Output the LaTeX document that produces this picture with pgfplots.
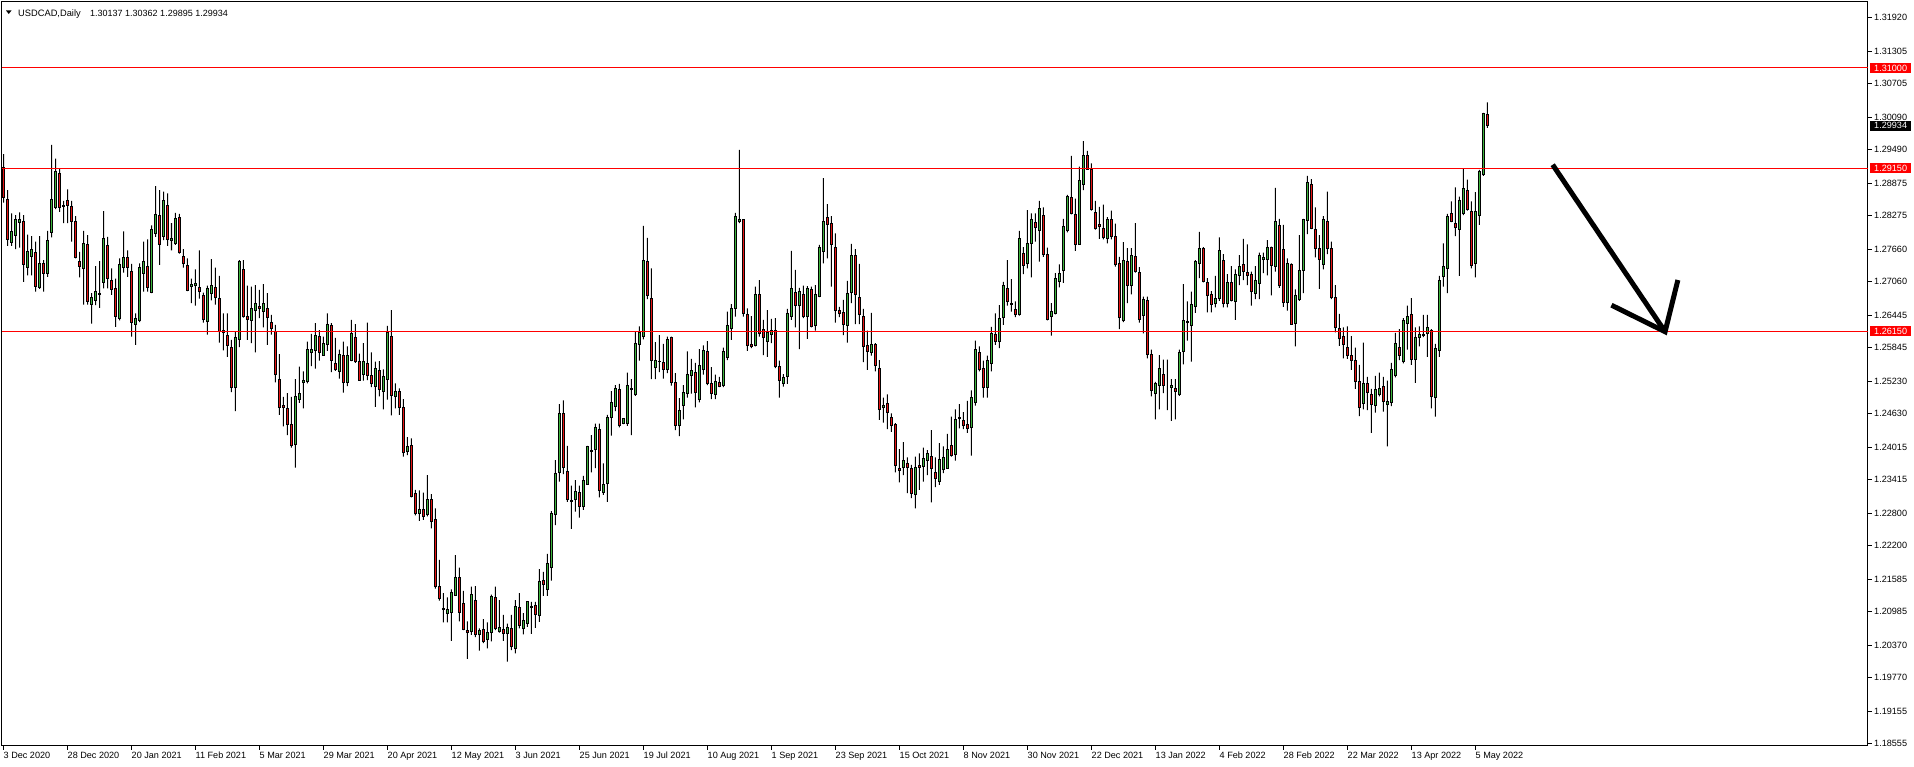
\documentclass[border=0pt]{standalone}
\usepackage{fontspec}
\setmainfont{Liberation Sans}
\usepackage{pgfplots}
\usepackage{pgfplotstable}
\pgfplotsset{compat=1.18}

\definecolor{bull}{RGB}{60,180,60}
\definecolor{bear}{RGB}{230,20,20}

% USDCAD daily candles: index, open, high, low, close
\pgfplotstableread{
i o h l c
0 1.2917 1.2941 1.2852 1.2861
1 1.2858 1.2875 1.2772 1.2784
2 1.2779 1.2832 1.2772 1.2799
3 1.2791 1.2829 1.2766 1.2820
4 1.2816 1.2834 1.2769 1.2820
5 1.2818 1.2829 1.2706 1.2737
6 1.2733 1.2793 1.2718 1.2762
7 1.2752 1.2790 1.2718 1.2766
8 1.2760 1.2780 1.2688 1.2697
9 1.2695 1.2790 1.2693 1.2739
10 1.2739 1.2746 1.2688 1.2721
11 1.2721 1.2800 1.2715 1.2783
12 1.2797 1.2958 1.2788 1.2858
13 1.2842 1.2933 1.2840 1.2910
14 1.2906 1.2915 1.2835 1.2842
15 1.2847 1.2855 1.2814 1.2845
16 1.2855 1.2876 1.2814 1.2847
17 1.2845 1.2855 1.2780 1.2817
18 1.2818 1.2827 1.2749 1.2750
19 1.2744 1.2761 1.2714 1.2734
20 1.2731 1.2800 1.2664 1.2777
21 1.2775 1.2792 1.2664 1.2669
22 1.2664 1.2685 1.2629 1.2677
23 1.2672 1.2735 1.2663 1.2688
24 1.2683 1.2744 1.2658 1.2685
25 1.2705 1.2836 1.2694 1.2785
26 1.2772 1.2789 1.2694 1.2712
27 1.2709 1.2731 1.2682 1.2692
28 1.2694 1.2712 1.2623 1.2643
29 1.2639 1.2749 1.2635 1.2737
30 1.2732 1.2799 1.2723 1.2751
31 1.2751 1.2764 1.2715 1.2732
32 1.2725 1.2739 1.2605 1.2632
33 1.2628 1.2648 1.2590 1.2639
34 1.2635 1.2740 1.2632 1.2733
35 1.2721 1.2780 1.2688 1.2744
36 1.2735 1.2784 1.2688 1.2695
37 1.2687 1.2810 1.2685 1.2802
38 1.2795 1.2882 1.2789 1.2830
39 1.2828 1.2875 1.2737 1.2775
40 1.2789 1.2872 1.2783 1.2856
41 1.2847 1.2869 1.2772 1.2784
42 1.2782 1.2814 1.2764 1.2786
43 1.2777 1.2833 1.2774 1.2823
44 1.2825 1.2831 1.2758 1.2760
45 1.2753 1.2766 1.2732 1.2739
46 1.2736 1.2749 1.2689 1.2690
47 1.2697 1.2712 1.2667 1.2702
48 1.2699 1.2729 1.2662 1.2703
49 1.2696 1.2764 1.2675 1.2689
50 1.2680 1.2686 1.2631 1.2637
51 1.2633 1.2699 1.2609 1.2693
52 1.2684 1.2748 1.2672 1.2700
53 1.2696 1.2732 1.2664 1.2677
54 1.2675 1.2717 1.2594 1.2614
55 1.2616 1.2648 1.2580 1.2613
56 1.2607 1.2648 1.2568 1.2589
57 1.2585 1.2599 1.2503 1.2511
58 1.2511 1.2614 1.2468 1.2604
59 1.2600 1.2746 1.2586 1.2744
60 1.2729 1.2746 1.2640 1.2643
61 1.2642 1.2699 1.2599 1.2637
62 1.2635 1.2697 1.2593 1.2656
63 1.2653 1.2700 1.2576 1.2667
64 1.2660 1.2691 1.2639 1.2656
65 1.2651 1.2702 1.2622 1.2667
66 1.2657 1.2685 1.2590 1.2641
67 1.2632 1.2645 1.2609 1.2620
68 1.2614 1.2627 1.2521 1.2536
69 1.2527 1.2573 1.2461 1.2475
70 1.2478 1.2494 1.2440 1.2475
71 1.2473 1.2501 1.2424 1.2444
72 1.2444 1.2494 1.2401 1.2404
73 1.2407 1.2527 1.2364 1.2494
74 1.2490 1.2550 1.2483 1.2500
75 1.2521 1.2541 1.2473 1.2525
76 1.2522 1.2596 1.2519 1.2582
77 1.2575 1.2610 1.2551 1.2582
78 1.2579 1.2630 1.2546 1.2608
79 1.2606 1.2617 1.2561 1.2575
80 1.2571 1.2605 1.2570 1.2592
81 1.2591 1.2648 1.2579 1.2628
82 1.2625 1.2630 1.2540 1.2561
83 1.2555 1.2603 1.2542 1.2544
84 1.2541 1.2581 1.2528 1.2573
85 1.2571 1.2596 1.2502 1.2521
86 1.2521 1.2587 1.2514 1.2570
87 1.2562 1.2636 1.2560 1.2610
88 1.2603 1.2628 1.2557 1.2559
89 1.2560 1.2574 1.2524 1.2525
90 1.2535 1.2593 1.2524 1.2559
91 1.2555 1.2631 1.2525 1.2533
92 1.2533 1.2576 1.2512 1.2519
93 1.2513 1.2559 1.2476 1.2547
94 1.2542 1.2560 1.2495 1.2507
95 1.2504 1.2545 1.2471 1.2531
96 1.2526 1.2625 1.2489 1.2612
97 1.2606 1.2654 1.2460 1.2497
98 1.2495 1.2519 1.2473 1.2505
99 1.2505 1.2510 1.2461 1.2475
100 1.2475 1.2490 1.2384 1.2392
101 1.2393 1.2420 1.2387 1.2402
102 1.2404 1.2418 1.2309 1.2311
103 1.2316 1.2323 1.2276 1.2280
104 1.2280 1.2322 1.2266 1.2287
105 1.2286 1.2318 1.2268 1.2274
106 1.2277 1.2350 1.2274 1.2306
107 1.2306 1.2315 1.2252 1.2265
108 1.2268 1.2289 1.2141 1.2145
109 1.2146 1.2194 1.2119 1.2123
110 1.2105 1.2133 1.2079 1.2103
111 1.2096 1.2125 1.2079 1.2102
112 1.2098 1.2140 1.2045 1.2134
113 1.2129 1.2203 1.2128 1.2161
114 1.2161 1.2180 1.2081 1.2098
115 1.2113 1.2137 1.2065 1.2066
116 1.2065 1.2081 1.2012 1.2060
117 1.2062 1.2145 1.2056 1.2130
118 1.2120 1.2146 1.2052 1.2057
119 1.2057 1.2068 1.2027 1.2065
120 1.2066 1.2085 1.2041 1.2044
121 1.2048 1.2079 1.2031 1.2061
122 1.2061 1.2130 1.2044 1.2126
123 1.2125 1.2145 1.2065 1.2067
124 1.2062 1.2120 1.2060 1.2070
125 1.2066 1.2093 1.2045 1.2058
126 1.2058 1.2077 1.2007 1.2069
127 1.2068 1.2093 1.2028 1.2034
128 1.2031 1.2120 1.2022 1.2109
129 1.2107 1.2133 1.2068 1.2074
130 1.2068 1.2096 1.2057 1.2083
131 1.2077 1.2118 1.2071 1.2117
132 1.2107 1.2117 1.2058 1.2109
133 1.2110 1.2117 1.2069 1.2093
134 1.2091 1.2177 1.2080 1.2155
135 1.2157 1.2172 1.2128 1.2148
136 1.2139 1.2205 1.2128 1.2188
137 1.2180 1.2284 1.2156 1.2279
138 1.2278 1.2378 1.2258 1.2353
139 1.2355 1.2481 1.2338 1.2464
140 1.2464 1.2488 1.2352 1.2365
141 1.2357 1.2404 1.2301 1.2305
142 1.2304 1.2331 1.2251 1.2301
143 1.2306 1.2341 1.2283 1.2320
144 1.2318 1.2331 1.2272 1.2292
145 1.2292 1.2349 1.2286 1.2341
146 1.2333 1.2404 1.2332 1.2402
147 1.2396 1.2424 1.2355 1.2393
148 1.2398 1.2445 1.2363 1.2438
149 1.2435 1.2445 1.2309 1.2322
150 1.2318 1.2372 1.2314 1.2333
151 1.2335 1.2461 1.2301 1.2457
152 1.2457 1.2505 1.2423 1.2484
153 1.2476 1.2516 1.2468 1.2510
154 1.2508 1.2518 1.2438 1.2441
155 1.2445 1.2455 1.2444 1.2454
156 1.2446 1.2539 1.2441 1.2516
157 1.2508 1.2527 1.2424 1.2510
158 1.2498 1.2614 1.2496 1.2593
159 1.2590 1.2624 1.2561 1.2613
160 1.2605 1.2809 1.2600 1.2746
161 1.2744 1.2787 1.2674 1.2681
162 1.2676 1.2731 1.2527 1.2561
163 1.2549 1.2595 1.2527 1.2561
164 1.2559 1.2608 1.2540 1.2560
165 1.2558 1.2592 1.2528 1.2545
166 1.2545 1.2605 1.2538 1.2600
167 1.2603 1.2605 1.2515 1.2520
168 1.2521 1.2538 1.2433 1.2441
169 1.2441 1.2492 1.2422 1.2470
170 1.2479 1.2516 1.2453 1.2503
171 1.2501 1.2578 1.2493 1.2535
172 1.2534 1.2564 1.2500 1.2543
173 1.2540 1.2557 1.2475 1.2503
174 1.2490 1.2582 1.2484 1.2552
175 1.2545 1.2589 1.2535 1.2580
176 1.2578 1.2597 1.2516 1.2519
177 1.2519 1.2549 1.2490 1.2500
178 1.2499 1.2535 1.2490 1.2523
179 1.2521 1.2531 1.2512 1.2514
180 1.2515 1.2585 1.2512 1.2577
181 1.2567 1.2651 1.2562 1.2626
182 1.2621 1.2665 1.2599 1.2657
183 1.2657 1.2833 1.2642 1.2827
184 1.2818 1.2949 1.2814 1.2821
185 1.2820 1.2821 1.2642 1.2648
186 1.2645 1.2657 1.2579 1.2588
187 1.2591 1.2643 1.2584 1.2587
188 1.2589 1.2697 1.2587 1.2683
189 1.2683 1.2709 1.2605 1.2611
190 1.2619 1.2636 1.2571 1.2604
191 1.2596 1.2654 1.2568 1.2613
192 1.2609 1.2638 1.2593 1.2617
193 1.2617 1.2639 1.2547 1.2551
194 1.2551 1.2561 1.2493 1.2524
195 1.2519 1.2536 1.2513 1.2530
196 1.2532 1.2656 1.2518 1.2647
197 1.2642 1.2763 1.2636 1.2694
198 1.2687 1.2728 1.2622 1.2662
199 1.2662 1.2695 1.2582 1.2689
200 1.2682 1.2699 1.2639 1.2642
201 1.2642 1.2698 1.2601 1.2694
202 1.2692 1.2697 1.2622 1.2624
203 1.2625 1.2700 1.2616 1.2683
204 1.2679 1.2774 1.2678 1.2770
205 1.2762 1.2897 1.2740 1.2818
206 1.2824 1.2849 1.2749 1.2811
207 1.2813 1.2827 1.2697 1.2775
208 1.2770 1.2795 1.2631 1.2654
209 1.2654 1.2660 1.2641 1.2648
210 1.2650 1.2673 1.2608 1.2628
211 1.2625 1.2708 1.2594 1.2685
212 1.2686 1.2776 1.2667 1.2755
213 1.2755 1.2766 1.2628 1.2683
214 1.2678 1.2739 1.2628 1.2646
215 1.2643 1.2656 1.2558 1.2587
216 1.2588 1.2616 1.2544 1.2578
217 1.2576 1.2649 1.2570 1.2591
218 1.2591 1.2593 1.2541 1.2552
219 1.2547 1.2562 1.2452 1.2471
220 1.2474 1.2493 1.2447 1.2479
221 1.2482 1.2499 1.2435 1.2465
222 1.2457 1.2464 1.2430 1.2442
223 1.2444 1.2446 1.2355 1.2368
224 1.2363 1.2398 1.2337 1.2358
225 1.2365 1.2411 1.2350 1.2377
226 1.2372 1.2383 1.2317 1.2364
227 1.2363 1.2369 1.2308 1.2316
228 1.2315 1.2384 1.2289 1.2365
229 1.2367 1.2390 1.2323 1.2364
230 1.2366 1.2401 1.2338 1.2381
231 1.2377 1.2396 1.2350 1.2390
232 1.2385 1.2433 1.2300 1.2362
233 1.2355 1.2383 1.2328 1.2344
234 1.2338 1.2409 1.2332 1.2379
235 1.2361 1.2403 1.2354 1.2383
236 1.2363 1.2426 1.2362 1.2398
237 1.2405 1.2458 1.2384 1.2387
238 1.2389 1.2471 1.2377 1.2453
239 1.2454 1.2481 1.2436 1.2457
240 1.2450 1.2466 1.2435 1.2441
241 1.2443 1.2487 1.2428 1.2436
242 1.2438 1.2506 1.2386 1.2493
243 1.2484 1.2598 1.2478 1.2581
244 1.2576 1.2587 1.2541 1.2544
245 1.2546 1.2561 1.2493 1.2511
246 1.2512 1.2570 1.2493 1.2562
247 1.2556 1.2623 1.2541 1.2611
248 1.2609 1.2648 1.2590 1.2596
249 1.2596 1.2663 1.2584 1.2639
250 1.2641 1.2706 1.2627 1.2700
251 1.2694 1.2746 1.2662 1.2670
252 1.2665 1.2711 1.2651 1.2667
253 1.2655 1.2670 1.2641 1.2646
254 1.2646 1.2800 1.2644 1.2786
255 1.2759 1.2770 1.2720 1.2736
256 1.2740 1.2838 1.2731 1.2777
257 1.2777 1.2832 1.2714 1.2821
258 1.2816 1.2832 1.2780 1.2806
259 1.2801 1.2855 1.2743 1.2841
260 1.2829 1.2843 1.2752 1.2756
261 1.2757 1.2769 1.2635 1.2636
262 1.2642 1.2667 1.2607 1.2652
263 1.2648 1.2722 1.2646 1.2712
264 1.2706 1.2738 1.2696 1.2722
265 1.2727 1.2822 1.2704 1.2808
266 1.2800 1.2866 1.2797 1.2864
267 1.2862 1.2938 1.2830 1.2832
268 1.2830 1.2859 1.2763 1.2775
269 1.2775 1.2918 1.2774 1.2892
270 1.2886 1.2965 1.2875 1.2939
271 1.2939 1.2947 1.2912 1.2913
272 1.2912 1.2924 1.2837 1.2840
273 1.2834 1.2855 1.2802 1.2804
274 1.2812 1.2844 1.2785 1.2808
275 1.2805 1.2848 1.2784 1.2787
276 1.2786 1.2825 1.2777 1.2820
277 1.2820 1.2837 1.2784 1.2789
278 1.2789 1.2813 1.2734 1.2738
279 1.2740 1.2752 1.2619 1.2640
280 1.2635 1.2779 1.2632 1.2745
281 1.2744 1.2768 1.2667 1.2700
282 1.2700 1.2768 1.2683 1.2755
283 1.2753 1.2814 1.2723 1.2725
284 1.2724 1.2733 1.2631 1.2636
285 1.2644 1.2679 1.2611 1.2674
286 1.2671 1.2679 1.2565 1.2573
287 1.2573 1.2581 1.2495 1.2506
288 1.2501 1.2522 1.2453 1.2519
289 1.2515 1.2571 1.2471 1.2547
290 1.2536 1.2563 1.2501 1.2516
291 1.2512 1.2563 1.2470 1.2512
292 1.2512 1.2527 1.2450 1.2516
293 1.2510 1.2527 1.2453 1.2504
294 1.2498 1.2581 1.2496 1.2576
295 1.2578 1.2702 1.2554 1.2635
296 1.2632 1.2670 1.2598 1.2633
297 1.2626 1.2688 1.2559 1.2665
298 1.2660 1.2746 1.2649 1.2743
299 1.2740 1.2798 1.2713 1.2767
300 1.2768 1.2770 1.2705 1.2706
301 1.2705 1.2713 1.2650 1.2681
302 1.2682 1.2689 1.2650 1.2665
303 1.2666 1.2717 1.2659 1.2676
304 1.2675 1.2788 1.2671 1.2763
305 1.2746 1.2757 1.2659 1.2666
306 1.2666 1.2720 1.2659 1.2704
307 1.2705 1.2735 1.2670 1.2671
308 1.2670 1.2729 1.2636 1.2720
309 1.2717 1.2755 1.2700 1.2735
310 1.2737 1.2785 1.2709 1.2725
311 1.2724 1.2775 1.2700 1.2717
312 1.2720 1.2725 1.2662 1.2688
313 1.2685 1.2735 1.2674 1.2708
314 1.2703 1.2760 1.2674 1.2754
315 1.2747 1.2760 1.2722 1.2751
316 1.2747 1.2783 1.2718 1.2770
317 1.2770 1.2771 1.2681 1.2736
318 1.2734 1.2879 1.2725 1.2818
319 1.2809 1.2822 1.2695 1.2699
320 1.2766 1.2811 1.2660 1.2668
321 1.2668 1.2749 1.2653 1.2740
322 1.2737 1.2740 1.2627 1.2628
323 1.2630 1.2692 1.2587 1.2680
324 1.2674 1.2792 1.2671 1.2726
325 1.2727 1.2822 1.2685 1.2820
326 1.2819 1.2901 1.2794 1.2889
327 1.2886 1.2895 1.2803 1.2805
328 1.2803 1.2843 1.2751 1.2768
329 1.2768 1.2792 1.2693 1.2747
330 1.2738 1.2827 1.2729 1.2820
331 1.2818 1.2872 1.2757 1.2768
332 1.2768 1.2780 1.2674 1.2678
333 1.2678 1.2700 1.2613 1.2622
334 1.2620 1.2647 1.2588 1.2602
335 1.2605 1.2622 1.2565 1.2591
336 1.2585 1.2624 1.2564 1.2570
337 1.2571 1.2606 1.2544 1.2561
338 1.2562 1.2585 1.2509 1.2523
339 1.2523 1.2553 1.2459 1.2475
340 1.2482 1.2594 1.2471 1.2519
341 1.2519 1.2531 1.2470 1.2502
342 1.2498 1.2509 1.2428 1.2481
343 1.2479 1.2533 1.2465 1.2507
344 1.2499 1.2539 1.2495 1.2510
345 1.2514 1.2531 1.2467 1.2485
346 1.2481 1.2524 1.2403 1.2485
347 1.2484 1.2557 1.2477 1.2544
348 1.2533 1.2612 1.2530 1.2592
349 1.2585 1.2619 1.2562 1.2570
350 1.2559 1.2639 1.2556 1.2634
351 1.2630 1.2662 1.2581 1.2643
352 1.2645 1.2676 1.2553 1.2563
353 1.2563 1.2622 1.2520 1.2604
354 1.2604 1.2624 1.2587 1.2609
355 1.2608 1.2645 1.2604 1.2609
356 1.2611 1.2645 1.2568 1.2622
357 1.2617 1.2619 1.2473 1.2495
358 1.2493 1.2592 1.2458 1.2584
359 1.2580 1.2717 1.2568 1.2709
360 1.2716 1.2777 1.2697 1.2735
361 1.2731 1.2831 1.2685 1.2827
362 1.2831 1.2854 1.2816 1.2817
363 1.2814 1.2880 1.2790 1.2806
364 1.2803 1.2863 1.2717 1.2855
365 1.2832 1.2915 1.2829 1.2878
366 1.2875 1.2894 1.2837 1.2840
367 1.2835 1.2854 1.2731 1.2736
368 1.2740 1.2871 1.2714 1.2836
369 1.2829 1.2912 1.2811 1.2909
370 1.2903 1.3017 1.2901 1.3015
371 1.30137 1.30362 1.29895 1.29934
}\usdcad

\tikzset{lbl/.style={font=\fontsize{9.1}{10}\selectfont}}
\pgfplotsset{
  chartframe/.style={
    scale only axis, width=1866pt, height=744pt,
    at={(2pt,21pt)}, anchor=south west,
    xmin=-0.375, xmax=466.125, ymin=1.18515, ymax=1.32212,
    enlargelimits=false,
  },
}

\begin{document}
\begin{tikzpicture}
\useasboundingbox (0,0) rectangle (1914pt,767pt);

% frame, date axis and price axis
\begin{axis}[chartframe,
  axis line style={line width=1pt},
  tick style={black, line width=1pt},
  tick align=outside, major tick length=4pt,
  xtick pos=bottom, ytick pos=right, yticklabel pos=right,
  xtick={0,16,...,368},
  xticklabels={3 Dec 2020, 28 Dec 2020, 20 Jan 2021, 11 Feb 2021, 5 Mar 2021,
    29 Mar 2021, 20 Apr 2021, 12 May 2021, 3 Jun 2021, 25 Jun 2021,
    19 Jul 2021, 10 Aug 2021, 1 Sep 2021, 23 Sep 2021, 15 Oct 2021,
    8 Nov 2021, 30 Nov 2021, 22 Dec 2021, 13 Jan 2022, 4 Feb 2022,
    28 Feb 2022, 22 Mar 2022, 13 Apr 2022, 5 May 2022},
  ytick={1.18555,1.19155,1.19770,1.20370,1.20985,1.21585,1.22200,1.22800,
    1.23415,1.24015,1.24630,1.25230,1.25845,1.26445,1.27060,1.27660,
    1.28275,1.28875,1.29490,1.30090,1.30705,1.31305,1.31920},
  yticklabels={1.18555,1.19155,1.19770,1.20370,1.20985,1.21585,1.22200,1.22800,
    1.23415,1.24015,1.24630,1.25230,1.25845,1.26445,1.27060,1.27660,
    1.28275,1.28875,1.29490,1.30090,1.30705,1.31305,1.31920},
  ticklabel style={lbl},
  xticklabel style={anchor=north west, inner sep=0pt, yshift=-2pt},
  yticklabel style={anchor=west, inner sep=0pt, xshift=2pt},
]
\end{axis}

% candles: invisible base, wick, invisible step down, bull body, bear body
\begin{axis}[chartframe, hide axis, ybar stacked, stack negative=on previous,
  reverse stacked plots=false]
\addplot[draw=none, fill=none, bar width=1pt] table[x=i, y=l] {\usdcad};
\addplot[draw=none, fill=black, bar width=1pt]
  table[x=i, y expr=\thisrow{h}-\thisrow{l}] {\usdcad};
\addplot[draw=none, fill=none, bar width=1pt]
  table[x=i, y expr={min(\thisrow{o},\thisrow{c})-\thisrow{h}}] {\usdcad};
\addplot[draw=black, line width=1pt, fill=bull, bar width=2pt]
  table[x=i, y expr={max(\thisrow{c}-\thisrow{o},0)}] {\usdcad};
\addplot[draw=black, line width=1pt, fill=bear, bar width=2pt]
  table[x=i, y expr={max(\thisrow{o}-\thisrow{c},0)}] {\usdcad};
\end{axis}

% levels, price tags and the arrow
\begin{axis}[chartframe, hide axis, clip=false]
\addplot[red, line width=1pt] coordinates {(-0.375,1.31) (466.125,1.31)};
\addplot[red, line width=1pt] coordinates {(-0.375,1.2915) (466.125,1.2915)};
\addplot[red, line width=1pt] coordinates {(-0.375,1.2615) (466.125,1.2615)};
\node[fill=red, text=white, anchor=west, xshift=2pt, inner xsep=4pt, inner ysep=0pt,
  minimum height=10pt, text height=6.5pt, text depth=0pt, lbl]
  at (axis cs:466.125,1.31) {1.31000};
\node[fill=red, text=white, anchor=west, xshift=2pt, inner xsep=4pt, inner ysep=0pt,
  minimum height=10pt, text height=6.5pt, text depth=0pt, lbl]
  at (axis cs:466.125,1.2915) {1.29150};
\node[fill=red, text=white, anchor=west, xshift=2pt, inner xsep=4pt, inner ysep=0pt,
  minimum height=10pt, text height=6.5pt, text depth=0pt, lbl]
  at (axis cs:466.125,1.2615) {1.26150};
\node[fill=black, text=white, anchor=west, xshift=2pt, inner xsep=4pt, inner ysep=0pt,
  minimum height=10pt, text height=6.5pt, text depth=0pt, lbl]
  at (axis cs:466.125,1.29934) {1.29934};
\draw[black, line width=5pt] (axis cs:387.3,1.29215) -- (axis cs:415.4,1.26142);
\draw[black, line width=5pt, line join=miter]
  (axis cs:402.0,1.26630) -- (axis cs:415.4,1.26142) -- (axis cs:418.6,1.27094);
\end{axis}

% chart caption
\fill (6pt,756.5pt) -- (11.5pt,756.5pt) -- (8.75pt,753pt) -- cycle;
\node[anchor=base west, inner sep=0pt, font=\fontsize{9.3}{11}\selectfont]
  at (18pt,750.5pt) {USDCAD,Daily};
\node[anchor=base west, inner sep=0pt, font=\fontsize{9}{11}\selectfont]
  at (90pt,750.5pt) {1.30137 1.30362 1.29895 1.29934};
\end{tikzpicture}
\end{document}
